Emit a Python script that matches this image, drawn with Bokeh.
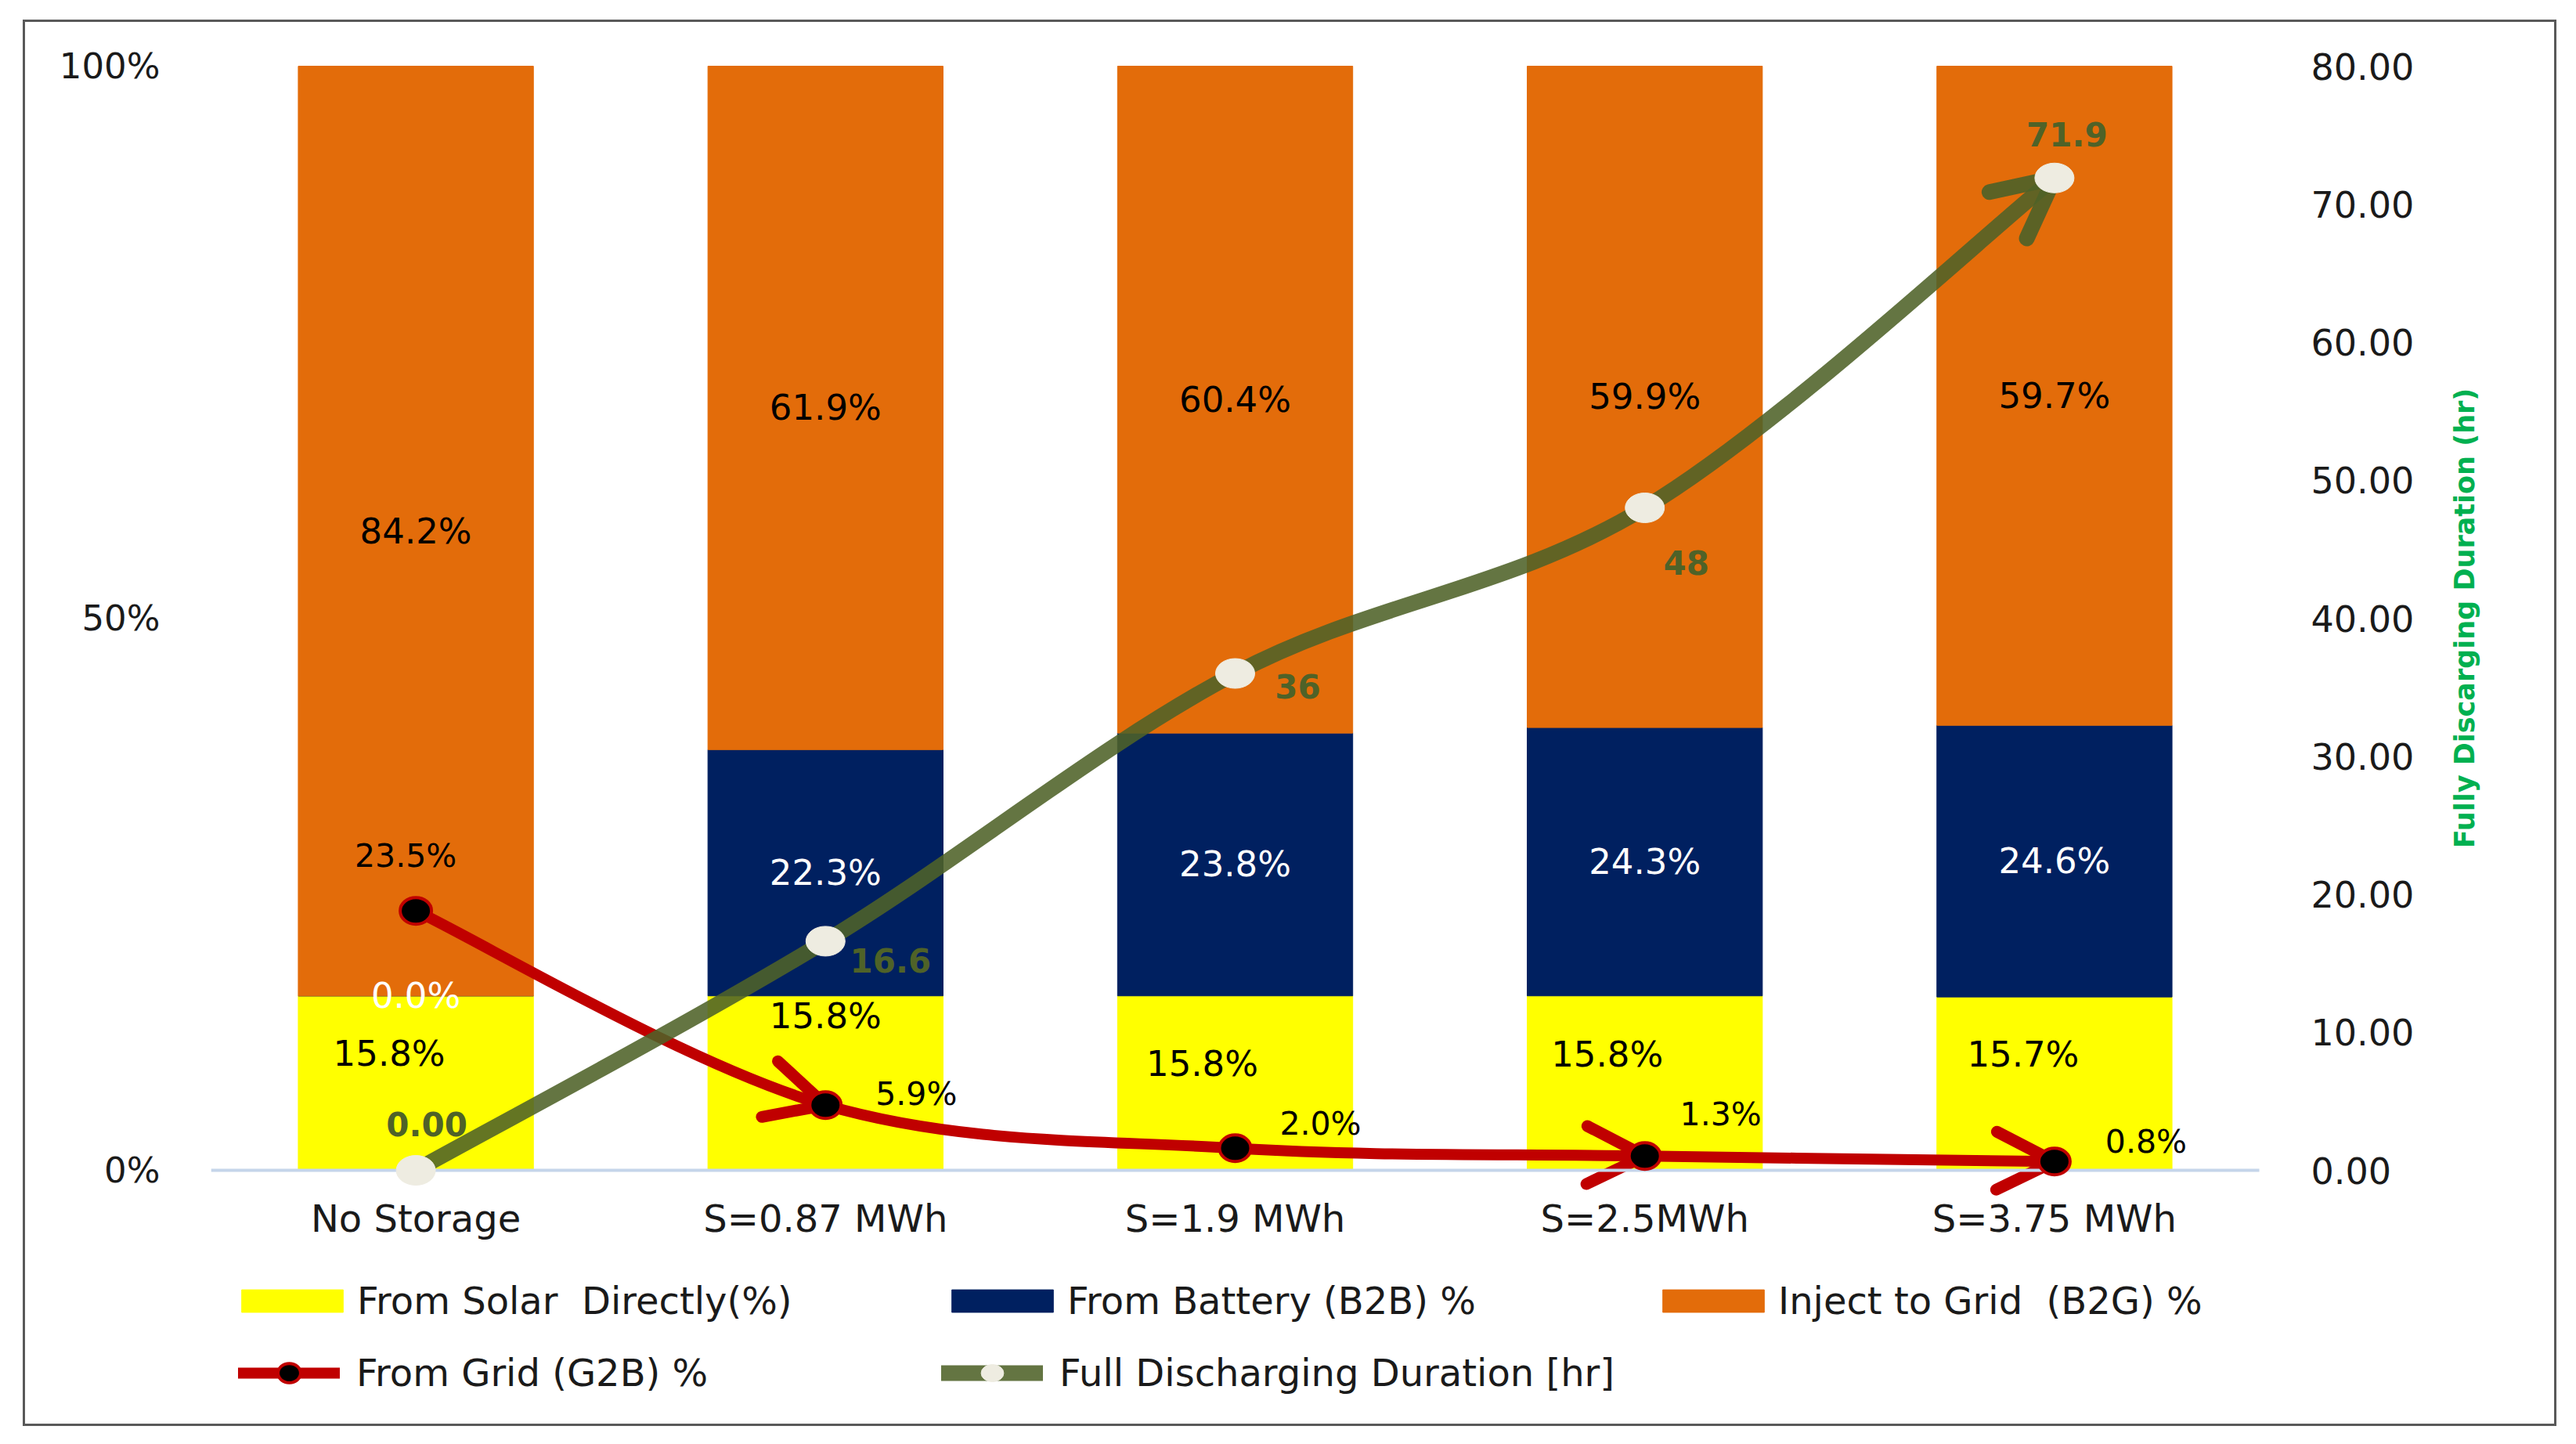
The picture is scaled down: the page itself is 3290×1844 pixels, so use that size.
import math
from bokeh.plotting import figure
from bokeh.models import (ColumnDataSource, Range1d, LinearAxis, FixedTicker,
                          NumeralTickFormatter, Legend, LegendItem, Arrow, OpenHead, Label)
from bokeh.core.properties import value
from bokeh.embed import file_html
from bokeh.resources import INLINE

# ---------------- data ----------------
categories = ["No Storage", "S=0.87 MWh", "S=1.9 MWh", "S=2.5MWh", "S=3.75 MWh"]
solar_direct = [15.8, 15.8, 15.8, 15.8, 15.7]      # From Solar Directly (%)
from_battery = [0.0, 22.3, 23.8, 24.3, 24.6]       # From Battery (B2B) %
inject_grid = [84.2, 61.9, 60.4, 59.9, 59.7]       # Inject to Grid (B2G) %
from_grid = [23.5, 5.9, 2.0, 1.3, 0.8]             # From Grid (G2B) %
duration = [0.00, 16.6, 36.0, 48.0, 71.9]          # Full Discharging Duration [hr]
duration_labels = ["0.00", "16.6", "36", "48", "71.9"]
left_ticks = [0, 50, 100]
right_ticks = [0, 10, 20, 30, 40, 50, 60, 70, 80]

# ---------------- layout / style (not data) ----------------
FONT = "DejaVu Sans"
YELLOW, NAVY, ORANGE = "#FFFF00", "#002060", "#E36C0A"
RED, GREEN, GREEN_TXT = "#C00000", "#4F6228", "#4F6228"
solar_label_dx = [-34, 0, -42, -48, -40]
solar_label_dy = [-38, -86, -25, -37, -37]
grid_label_dx = [-13, 116, 109, 97, 117]
grid_label_dy = [-70, -14, -31, -53, -25]
dur_label_dx = [14, 83, 80, 53, 16]
dur_label_dy = [-59, 25, 16, 70, -56]
red_arrow_at = [1, 3, 4]
green_arrow_at = [4]
legend_row1_x = [23, 930, 1838]     # px from the left edge of the plotting area
legend_row2_x = [35, 933]
LEGEND_ROW1_Y, LEGEND_ROW2_Y = 135, 43

W, H = 3236, 1796               # outer size of the bordered chart
CW, CH = W, H                   # canvas size
FRAME_TOP, TOP_100, LEFT, RIGHT = 10, 56, 237, 60
ZERO_Y = 1466                   # canvas row of the 0 baseline
UNIT_X = 2616 / 5.0             # pixels per category slot
PX_PER_PCT = (ZERO_Y - TOP_100) / 100.0
left_lo = -(CH - ZERO_Y) / PX_PER_PCT
left_hi = 100 + (TOP_100 - FRAME_TOP) / PX_PER_PCT
right_lo, right_hi = 0.8 * left_lo, 0.8 * left_hi

xs = list(range(len(categories)))
x_lo = -0.5
x_last = len(categories) - 0.5
x_hi = x_lo + (CW - LEFT - RIGHT) / UNIT_X

p = figure(width=W, height=H, x_range=Range1d(x_lo, x_hi),
           y_range=Range1d(left_lo, left_hi), output_backend="svg", toolbar_location=None,
           min_border_left=LEFT, min_border_right=RIGHT, min_border_top=FRAME_TOP,
           min_border_bottom=0,
           background_fill_color="white", border_fill_color="white", outline_line_color=None,
           margin=(25, 0, 0, 29), styles={"border": "3px solid #595959"})
p.extra_y_ranges = {"dur": Range1d(right_lo, right_hi)}
p.xgrid.visible = False
p.ygrid.visible = False

# x axis (drawn on the 0 baseline, only under the bars)
xa = p.xaxis[0]
xa.fixed_location = 0
xa.bounds = (x_lo, x_last)
xa.ticker = FixedTicker(ticks=xs)
xa.major_label_overrides = {i: c for i, c in enumerate(categories)}
xa.major_tick_line_color = None
xa.minor_tick_line_color = None
xa.axis_line_color = "#C5D5EA"
xa.axis_line_width = 4
xa.major_label_standoff = 27
xa.major_label_text_font = FONT
xa.major_label_text_font_size = "48px"
xa.major_label_text_color = "#1a1a1a"

# left axis
ya = p.yaxis[0]
ya.ticker = FixedTicker(ticks=left_ticks)
ya.major_label_overrides = {t: f"{t}%" for t in left_ticks}
ya.axis_line_color = None
ya.major_tick_line_color = None
ya.minor_tick_line_color = None
ya.major_label_standoff = 59
ya.major_label_text_font = FONT
ya.major_label_text_font_size = "45px"
ya.major_label_text_color = "#1a1a1a"

# right axis (secondary, hours) drawn at the right edge of the bar area
ra = LinearAxis(y_range_name="dur", ticker=FixedTicker(ticks=right_ticks),
                formatter=NumeralTickFormatter(format="0.00"), fixed_location=x_last)
ra.axis_line_color = None
ra.major_tick_line_color = None
ra.minor_tick_line_color = None
ra.major_label_standoff = 60
ra.major_label_text_font = FONT
ra.major_label_text_font_size = "46px"
ra.major_label_text_color = "#1a1a1a"
p.add_layout(ra, "right")

# right axis title, centred on the value range
p.add_layout(Label(x=x_last + 262 / UNIT_X, y=50, text="Fully Discarging Duration (hr)",
                   angle=math.pi / 2, text_align="center", text_baseline="middle",
                   text_font=FONT, text_font_style="bold", text_font_size="35px",
                   text_color="#00B050"))

# stacked bars
bar_src = ColumnDataSource(dict(x=xs, solar=solar_direct, battery=from_battery, inject=inject_grid))
bars = p.vbar_stack(["solar", "battery", "inject"], x="x", width=0.574,
                    color=[YELLOW, NAVY, ORANGE], source=bar_src)


# smoothed (Excel-like) curves as cubic Bezier segments through the data points
def bezier_source(px, py):
    n = len(px)
    d = dict(x0=[], y0=[], x1=[], y1=[], cx0=[], cy0=[], cx1=[], cy1=[])
    for i in range(n - 1):
        pxm, pym = (px[i - 1], py[i - 1]) if i > 0 else (px[i], py[i])
        pxn, pyn = (px[i + 2], py[i + 2]) if i + 2 < n else (px[i + 1], py[i + 1])
        d["x0"].append(px[i]); d["y0"].append(py[i])
        d["x1"].append(px[i + 1]); d["y1"].append(py[i + 1])
        d["cx0"].append(px[i] + (px[i + 1] - pxm) / 6.0)
        d["cy0"].append(py[i] + (py[i + 1] - pym) / 6.0)
        d["cx1"].append(px[i + 1] - (pxn - px[i]) / 6.0)
        d["cy1"].append(py[i + 1] - (pyn - py[i]) / 6.0)
    return d


red_bz = bezier_source(xs, from_grid)
green_bz = bezier_source(xs, duration)

red_line = p.bezier(x0="x0", y0="y0", x1="x1", y1="y1", cx0="cx0", cy0="cy0", cx1="cx1", cy1="cy1",
                    source=ColumnDataSource(red_bz), line_color=RED, line_width=14, line_cap="round")
green_line = p.bezier(x0="x0", y0="y0", x1="x1", y1="y1", cx0="cx0", cy0="cy0", cx1="cx1", cy1="cy1",
                      source=ColumnDataSource(green_bz), line_color=GREEN, line_width=20,
                      line_alpha=0.88, line_cap="round", y_range_name="dur")


def arrow_source(bz, idx):
    return ColumnDataSource(dict(
        xs=[bz["cx1"][i - 1] for i in idx], ys=[bz["cy1"][i - 1] for i in idx],
        xe=[bz["x1"][i - 1] for i in idx], ye=[bz["y1"][i - 1] for i in idx]))


p.add_layout(Arrow(end=OpenHead(line_color=RED, line_width=15, size=74, line_cap="round",
                                line_join="round"),
                   x_start="xs", y_start="ys", x_end="xe", y_end="ye",
                   source=arrow_source(red_bz, red_arrow_at), line_alpha=0, level="glyph"))
p.add_layout(Arrow(end=OpenHead(line_color=GREEN, line_width=20, size=76, line_cap="round",
                                line_join="round", line_alpha=0.92),
                   x_start="xs", y_start="ys", x_end="xe", y_end="ye", y_range_name="dur",
                   source=arrow_source(green_bz, green_arrow_at), line_alpha=0, level="glyph"))

pt_src = ColumnDataSource(dict(x=xs, g2b=from_grid, dur=duration))
red_pts = p.ellipse(x="x", y="g2b", width=40, height=34, width_units="screen", height_units="screen",
                    fill_color="black", line_color=RED, line_width=4, source=pt_src, level="annotation")
green_pts = p.ellipse(x="x", y="dur", width=50, height=38, width_units="screen", height_units="screen",
                      fill_color="#EEECE1", line_color="#EEECE1", line_width=1, source=pt_src,
                      y_range_name="dur", level="annotation")

# ---------------- data labels ----------------
bar_lbl = dict(x=[], y=[], t=[], dx=[], dy=[], c=[])
for i in xs:
    bar_lbl["x"].append(i); bar_lbl["y"].append(solar_direct[i] / 2)
    bar_lbl["t"].append(f"{solar_direct[i]:.1f}%"); bar_lbl["dx"].append(solar_label_dx[i])
    bar_lbl["dy"].append(solar_label_dy[i]); bar_lbl["c"].append("black")
    bar_lbl["x"].append(i); bar_lbl["y"].append(solar_direct[i] + from_battery[i] / 2)
    bar_lbl["t"].append(f"{from_battery[i]:.1f}%"); bar_lbl["dx"].append(0)
    bar_lbl["dy"].append(0); bar_lbl["c"].append("white")
    bar_lbl["x"].append(i); bar_lbl["y"].append(solar_direct[i] + from_battery[i] + inject_grid[i] / 2)
    bar_lbl["t"].append(f"{inject_grid[i]:.1f}%"); bar_lbl["dx"].append(0)
    bar_lbl["dy"].append(0); bar_lbl["c"].append("black")
p.text(x="x", y="y", text="t", x_offset="dx", y_offset="dy", text_color="c",
       source=ColumnDataSource(bar_lbl), text_font=value(FONT), text_font_size=value("45px"),
       text_align="center", text_baseline="middle", level="annotation")

grid_lbl = ColumnDataSource(dict(x=xs, y=from_grid, t=[f"{v:.1f}%" for v in from_grid],
                                 dx=grid_label_dx, dy=grid_label_dy))
p.text(x="x", y="y", text="t", x_offset="dx", y_offset="dy", source=grid_lbl, text_color="black",
       text_font=value(FONT), text_font_size=value("41px"), text_align="center",
       text_baseline="middle", level="annotation")

dur_lbl = ColumnDataSource(dict(x=xs, y=duration, t=duration_labels, dx=dur_label_dx, dy=dur_label_dy))
p.text(x="x", y="y", text="t", x_offset="dx", y_offset="dy", source=dur_lbl, text_color=GREEN_TXT,
       text_font=value(FONT), text_font_style="bold", text_font_size=value("42px"),
       text_align="center", text_baseline="middle", y_range_name="dur", level="annotation")

# ---------------- legend (inside the frame, below the baseline, two rows) ----------------
common = dict(orientation="horizontal", padding=0, margin=0, border_line_color=None,
              background_fill_alpha=0, label_text_font=FONT, label_text_font_size="48px",
              label_text_color="#1a1a1a", glyph_height=36)
row1 = [("From Solar  Directly(%)", [bars[0]]),
        ("From Battery (B2B) %", [bars[1]]),
        ("Inject to Grid  (B2G) %", [bars[2]])]
row2 = [("From Grid (G2B) %", [red_line, red_pts]),
        ("Full Discharging Duration [hr]", [green_line, green_pts])]
for (lbl, rends), lx in zip(row1, legend_row1_x):
    p.add_layout(Legend(items=[LegendItem(label=lbl, renderers=rends)], location=(lx, LEGEND_ROW1_Y),
                        glyph_width=162, label_standoff=2, **common))
for (lbl, rends), lx in zip(row2, legend_row2_x):
    p.add_layout(Legend(items=[LegendItem(label=lbl, renderers=rends)], location=(lx, LEGEND_ROW2_Y),
                        glyph_width=130, label_standoff=21, **common))

open("out.html", "w").write(file_html(p, INLINE))
